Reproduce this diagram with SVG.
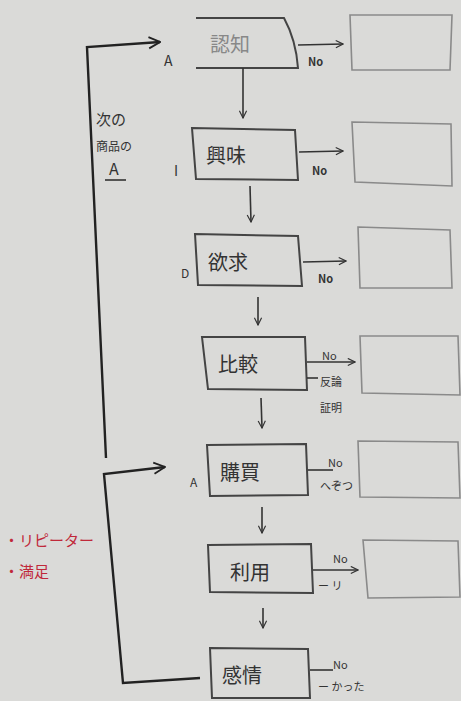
<svg xmlns="http://www.w3.org/2000/svg" width="461" height="701" viewBox="0 0 461 701">
<defs>
<marker id="ah" viewBox="0 0 10 10" refX="9" refY="5" markerWidth="9" markerHeight="9" orient="auto" markerUnits="userSpaceOnUse">
<path d="M1,1 L9,5 L1,9" fill="none" stroke="#333" stroke-width="1.3"/>
</marker>
<marker id="ahb" viewBox="0 0 10 10" refX="9" refY="5" markerWidth="14" markerHeight="14" orient="auto" markerUnits="userSpaceOnUse">
<path d="M1,1 L9,5 L1,9" fill="none" stroke="#222" stroke-width="1.3"/>
</marker>
</defs>
<style>
.box{fill:none;stroke:#444;stroke-width:2}
.rbox{fill:none;stroke:#8a8a8a;stroke-width:1.6}
.ln{fill:none;stroke:#333;stroke-width:1.6}
.lp{fill:none;stroke:#222;stroke-width:2.4}
.t{font-family:"Noto Sans CJK JP","Noto Sans",sans-serif;fill:#333}
.big{font-size:20px}
.sm{font-size:11px}
.red{fill:#c0283a;font-size:15px}
</style>
<rect width="461" height="701" fill="#dadad8"/>

<g id="n1">
<path class="box" d="M196,18 L284,18 Q296,40 298,68 L196,68"/>
<text class="t big" x="210" y="52" style="fill:#888">認知</text>
<text class="t" x="164" y="66" font-size="14">A</text>
</g>
<g id="r1"><path class="rbox" d="M350,15 L452,15 L450,70 L352,70 Z"/></g>

<g id="n2">
<path class="box" d="M192,128 L295,130 L298,180 L196,179 Z"/>
<text class="t big" x="206" y="163">興味</text>
<text class="t" x="174" y="176" font-size="14">I</text>
</g>
<g id="r2"><path class="rbox" d="M352,122 L451,124 L452,186 L355,182 Z"/></g>

<g id="n3">
<path class="box" d="M195,234 L298,236 L302,286 L198,285 Z"/>
<text class="t big" x="208" y="270">欲求</text>
<text class="t" x="181" y="278" font-size="12">D</text>
</g>
<g id="r3"><path class="rbox" d="M358,227 L450,230 L452,288 L360,288 Z"/></g>

<g id="n4">
<path class="box" d="M202,337 L305,337 L307,390 L208,389 Z"/>
<text class="t big" x="218" y="372">比較</text>
</g>
<g id="r4"><path class="rbox" d="M360,336 L458,336 L460,395 L362,393 Z"/></g>

<g id="n5">
<path class="box" d="M207,445 L306,444 L308,495 L210,496 Z"/>
<text class="t big" x="220" y="480">購買</text>
<text class="t" x="190" y="487" font-size="12">A</text>
</g>
<g id="r5"><path class="rbox" d="M358,441 L458,442 L460,498 L360,497 Z"/></g>

<g id="n6">
<path class="box" d="M208,545 L311,544 L313,593 L210,592 Z"/>
<text class="t big" x="230" y="580">利用</text>
</g>
<g id="r6"><path class="rbox" d="M363,540 L458,541 L460,597 L368,598 Z"/></g>

<g id="n7">
<path class="box" d="M210,648 L308,649 L310,698 L212,698 Z"/>
<text class="t big" x="222" y="683">感情</text>
</g>

<g id="connectors">
<line class="ln" x1="243" y1="68" x2="243" y2="118" marker-end="url(#ah)"/>
<line class="ln" x1="250" y1="186" x2="251" y2="222" marker-end="url(#ah)"/>
<line class="ln" x1="258" y1="297" x2="258" y2="325" marker-end="url(#ah)"/>
<line class="ln" x1="261" y1="398" x2="262" y2="428" marker-end="url(#ah)"/>
<line class="ln" x1="262" y1="507" x2="262" y2="533" marker-end="url(#ah)"/>
<line class="ln" x1="263" y1="608" x2="263" y2="628" marker-end="url(#ah)"/>

<line class="ln" x1="298" y1="45" x2="343" y2="44" marker-end="url(#ah)"/>
<line class="ln" x1="299" y1="152" x2="343" y2="151" marker-end="url(#ah)"/>
<line class="ln" x1="303" y1="262" x2="346" y2="261" marker-end="url(#ah)"/>
<line class="ln" x1="307" y1="362" x2="355" y2="362" marker-end="url(#ah)"/>
<line class="ln" x1="307" y1="378" x2="318" y2="378"/>
<line class="ln" x1="308" y1="470" x2="333" y2="470"/>
<line class="ln" x1="313" y1="570" x2="358" y2="570" marker-end="url(#ah)"/>
<line class="ln" x1="310" y1="670" x2="333" y2="670"/>

<path class="lp" d="M106,458 L87,47 L160,42" marker-end="url(#ahb)"/>
<path class="lp" d="M200,678 L123,683 L104,474 L165,467" marker-end="url(#ahb)"/>
</g>

<g id="labels">
<text class="t" x="308" y="66" font-size="11" font-weight="bold">No</text>
<text class="t" x="312" y="175" font-size="11" font-weight="bold">No</text>
<text class="t" x="318" y="283" font-size="11" font-weight="bold">No</text>
<text class="t sm" x="322" y="360">No</text>
<text class="t sm" x="320" y="386">反論</text>
<text class="t sm" x="320" y="412">証明</text>
<text class="t sm" x="328" y="467">No</text>
<text class="t sm" x="320" y="490">へぞつ</text>
<text class="t sm" x="333" y="563">No</text>
<text class="t sm" x="318" y="590">ー リ</text>
<text class="t sm" x="333" y="669">No</text>
<text class="t sm" x="318" y="691">ー かった</text>

<text class="t" x="96" y="125" font-size="15">次の</text>
<text class="t" x="96" y="151" font-size="12">商品の</text>
<text class="t" x="109" y="175" font-size="16">A</text>
<line class="ln" x1="105" y1="180" x2="126" y2="180"/>

<text class="t red" x="4" y="546">・リピーター</text>
<text class="t red" x="4" y="577">・満足</text>
</g>
</svg>
